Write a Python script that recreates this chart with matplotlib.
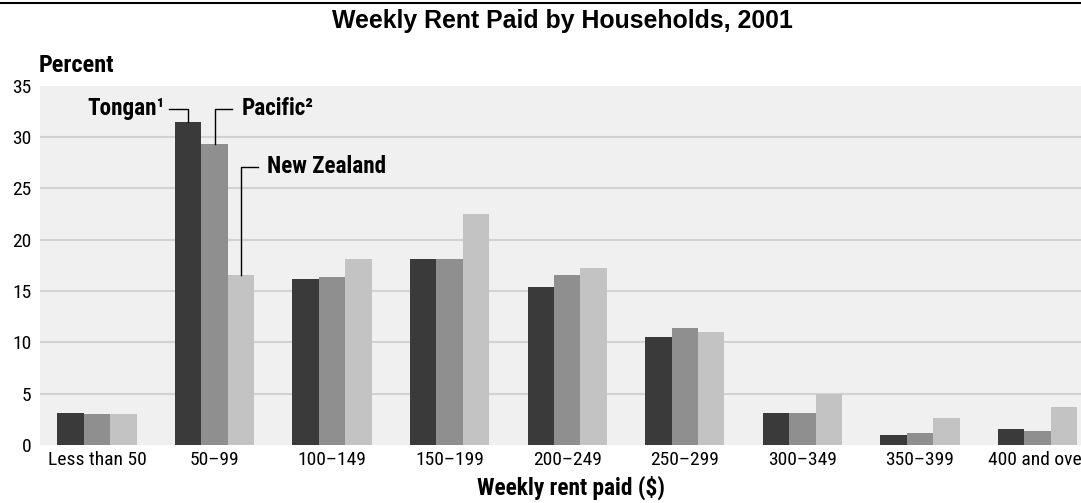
import matplotlib
matplotlib.use("Agg")
import matplotlib.pyplot as plt
import numpy as np

categories = ['Less than 50', '50–99', '100–149', '150–199', '200–249',
              '250–299', '300–349', '350–399', '400 and over']
tongan = [3.1, 31.5, 16.2, 18.1, 15.4, 10.5, 3.1, 1.0, 1.55]
pacific = [3.0, 29.3, 16.4, 18.1, 16.6, 11.4, 3.1, 1.15, 1.35]
nz = [3.0, 16.6, 18.1, 22.5, 17.25, 11.0, 5.0, 2.6, 3.7]

plt.rcParams['font.family'] = ['Roboto Condensed', 'DejaVu Sans']

fig = plt.figure(figsize=(10.81, 5.03), dpi=100)
ax = fig.add_axes([0.037, 0.1153, 0.963, 0.714])
ax.set_facecolor('#f0f0f0')

x = np.arange(len(categories))
w = 0.225
ax.bar(x - w, tongan, w, color='#3a3a3a', zorder=3)
ax.bar(x, pacific, w, color='#8f8f8f', zorder=3)
ax.bar(x + w, nz, w, color='#c3c3c3', zorder=3)

ax.set_xlim(-0.485, 8.37)
ax.set_ylim(0, 35)
ax.set_yticks(range(0, 36, 5))
ax.set_xticks(x)
ax.set_xticklabels(categories)
ax.tick_params(axis='both', length=0, labelsize=14, colors='black')
ax.tick_params(axis='y', pad=6)
ax.tick_params(axis='x', pad=4)
for y in range(5, 35, 5):
    ax.axhline(y, color='#d2d2d2', lw=1.5, zorder=1)
for s in ax.spines.values():
    s.set_visible(False)

# leader labels on the 50-99 group
lab_font = dict(fontsize=16.7, fontweight='bold', va='center')
ax.plot([0.613, 1 - w, 1 - w], [32.75, 32.75, tongan[1]], color='black', lw=1, zorder=4)
ax.text(0.58, 32.75, 'Tongan¹', ha='right', **lab_font)
ax.plot([1.149, 1, 1], [32.75, 32.75, pacific[1]], color='black', lw=1, zorder=4)
ax.text(1.226, 32.75, 'Pacific²', ha='left', **lab_font)
ax.plot([1.37, 1 + w, 1 + w], [27.1, 27.1, nz[1]], color='black', lw=1, zorder=4)
ax.text(1.447, 27.1, 'New Zealand', ha='left', **lab_font)

fig.text(0.036, 0.857, 'Percent', fontsize=17.5, fontweight='bold', ha='left', va='baseline')
fig.text(0.528, 0.016, 'Weekly rent paid ($)', fontsize=16.8, fontweight='bold',
         ha='center', va='baseline')
fig.text(0.52, 0.944, 'Weekly Rent Paid by Households, 2001', fontsize=17.9,
         fontweight='bold', ha='center', va='baseline', family=['Liberation Sans', 'DejaVu Sans'])
fig.add_artist(plt.Line2D([0, 1], [0.994, 0.994], color='black', lw=1.5))

fig.savefig('out.png', dpi=100)
